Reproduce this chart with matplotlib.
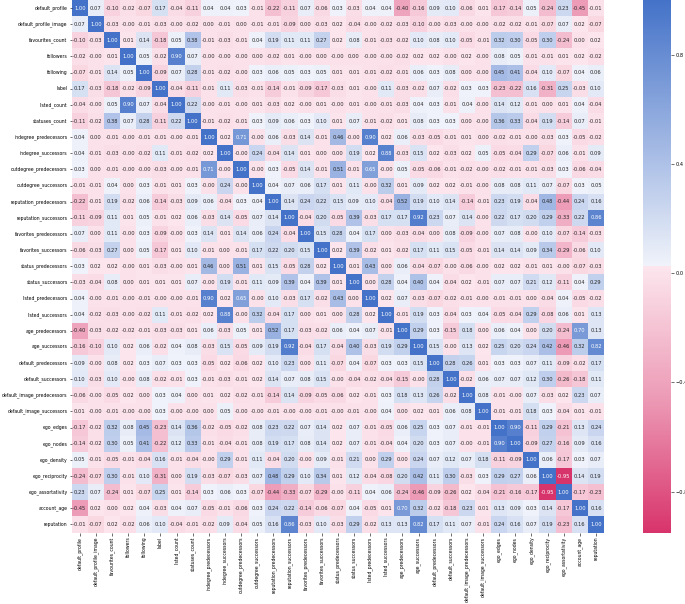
import numpy as np
import pandas as pd
import matplotlib
matplotlib.use("Agg")
import matplotlib.pyplot as plt
from matplotlib.colors import LinearSegmentedColormap
import seaborn as sns

labels = [
    "default_profile", "default_profile_image", "favourites_count", "followers", "following",
    "label", "listed_count", "statuses_count", "indegree_predecessors", "indegree_successors",
    "outdegree_predecessors", "outdegree_successors", "reputation_predecessors",
    "reputation_successors", "favorites_predecessors", "favorites_successors",
    "status_predecessors", "status_successors", "listed_predecessors", "listed_successors",
    "age_predecessors", "age_successors", "default_predecessors", "default_successors",
    "default_image_predecessors", "default_image_successors", "ego_edges", "ego_nodes",
    "ego_density", "ego_reciprocity", "ego_assortativity", "account_age", "reputation",
]

# upper triangle read row by row, each row starts at the diagonal
upper = [
    [1.00, .07, -.10, -.02, -.07, .17, -.04, -.11, .04, .04, .03, -.01, -.22, -.11, .07, -.06, .03, -.03, .04, .04, -.40, -.16, .09, .10, -.06, .01, -.17, -.14, .05, -.24, .23, -.45, -.01],
    [1.00, -.03, -0.0, -.01, -.03, -0.0, -.02, .00, -.01, .00, -.01, -.01, -.09, .00, -.03, .02, -.04, -0.0, -.02, -.03, -.10, -0.0, -.03, -0.0, -0.0, -.02, -.02, -.01, -.07, .07, .02, -.07],
    [1.00, .01, .14, -.18, .05, .38, -.01, -.03, -.01, .04, .19, .11, .11, .27, .02, .08, -.01, -.03, -.02, .10, .08, .10, -.05, -.01, .32, .30, -.05, .30, -.24, .00, .02],
    [1.00, .05, -.02, .90, .07, -0.0, -0.0, -0.0, .00, -.02, .01, -0.0, .00, -0.0, .00, -0.0, -0.0, -.02, .02, .02, -0.0, .02, -0.0, .08, .05, -.01, -.01, .01, .02, -.02],
    [1.00, -.09, .07, .28, -.01, -.02, -0.0, .03, .06, .05, .03, .05, .01, .01, -.01, -.02, -.01, .06, .03, .08, .00, -0.0, .45, .41, -.04, .10, -.07, .04, .06],
    [1.00, -.04, -.11, -.01, .11, -.03, -.01, -.14, -.01, -.09, -.17, -.03, .01, -0.0, .11, -.03, -.02, .07, -.02, .03, .03, -.23, -.22, .16, -.31, .25, -.03, .10],
    [1.00, .22, -0.0, -.01, -0.0, .01, -.03, .02, -0.0, .01, -0.0, .01, -0.0, -.01, -.03, .04, .03, -.01, .04, -0.0, .14, .12, -.01, .00, .01, .04, -.04],
    [1.00, -.01, -.02, -.01, .03, .09, .06, .03, .10, .01, .07, -.01, -.02, .01, .08, .03, .03, .00, -0.0, .36, .33, -.04, .19, -.14, .07, -.01],
    [1.00, .02, .71, -0.0, .06, -.03, .14, -.01, .46, -0.0, .90, .02, .06, -.03, -.05, -.01, .01, .00, -.02, -.01, -0.0, -.03, .03, -.05, -.02],
    [1.00, -0.0, .24, -.04, .14, .01, .00, .00, .19, .02, .88, -.03, .15, .02, -.03, .02, .05, -.05, -.04, .29, -.07, .06, -.01, .09],
    [1.00, -0.0, .03, -.05, .14, -.01, .51, -.01, .65, -0.0, .05, -.05, -.06, -.01, -.02, -0.0, -.02, -.01, -.01, -.03, .03, -.06, -.04],
    [1.00, .04, .07, .06, .17, .01, .11, -0.0, .32, .01, .09, .02, .02, -.01, -0.0, .08, .08, .11, .07, -.07, .03, .05],
    [1.00, .14, .24, .22, .15, .09, .10, -.04, .52, .19, .10, .14, -.14, -.01, .23, .19, -.04, .48, -.44, .24, .16],
    [1.00, -.04, .20, -.05, .39, -.03, .17, .17, .92, .23, .07, .14, -0.0, .22, .17, .20, .29, -.33, .22, .86],
    [1.00, .15, .28, .04, .17, .00, -.03, -.04, .00, .08, -.09, -0.0, .07, .08, -0.0, .10, -.07, -.14, -.03],
    [1.00, .02, .39, -.02, .01, -.02, .17, .11, .15, -.05, -.01, .14, .14, .09, .34, -.29, -.06, .10],
    [1.00, .01, .43, .00, .06, -.04, -.07, -0.0, -.06, -0.0, .02, .02, -.01, .01, -0.0, -.07, -.03],
    [1.00, .00, .28, .04, .40, .04, -.04, .02, -.01, .07, .07, .21, .12, -.11, .04, .29],
    [1.00, .02, .07, -.03, -.07, -.02, -.01, -0.0, -.01, -.01, .00, -.04, .04, -.05, -.02],
    [1.00, -.01, .19, .03, -.04, .03, .04, -.05, -.04, .29, -.08, .06, .01, .13],
    [1.00, .29, .03, -.15, .18, .00, .06, .04, .00, .20, -.24, .70, .13],
    [1.00, .15, -0.0, .13, .02, .25, .20, .24, .42, -.46, .32, .82],
    [1.00, .28, .26, .01, .03, .03, .07, .11, -.09, -.02, .17],
    [1.00, -.02, .06, .07, .07, .12, .30, -.26, -.18, .11],
    [1.00, .08, -.01, -0.0, .07, -.03, .02, .23, .07],
    [1.00, -.01, -.01, .18, .03, -.04, .01, -.01],
    [1.00, .90, -.11, .29, -.21, .13, .24],
    [1.00, -.09, .27, -.16, .09, .16],
    [1.00, .06, -.17, .03, .07],
    [1.00, -.95, .14, .19],
    [1.00, -.17, -.23],
    [1.00, .16],
    [1.00],
]


def main():
    n = len(labels)
    corr = np.zeros((n, n))
    for i, row in enumerate(upper):
        for j, val in enumerate(row):
            corr[i, i + j] = val
            corr[i + j, i] = val
    df = pd.DataFrame(corr, index=labels, columns=labels)

    W, H = 685, 604
    fig = plt.figure(figsize=(W / 100, H / 100), dpi=100)
    ax = fig.add_axes([71.7 / W, 1 - 532.5 / H, 532.3 / W, 532.5 / H])
    cax = fig.add_axes([643 / W, 1 - 532.5 / H, 27.7 / W, 532.5 / H])

    # pale pink and pale blue meet in the middle of the map, no white band
    cmap = LinearSegmentedColormap.from_list("pink_blue", [
        (0.0, "#d8346c"), (0.25, "#ec9ab5"), (0.499, "#fce6ed"),
        (0.501, "#f0f3fa"), (0.75, "#9ab2e1"), (1.0, "#4472c8"),
    ], N=512)
    sns.heatmap(df, annot=True, fmt=".2f", cmap=cmap, ax=ax, cbar_ax=cax,
                vmin=-0.95, vmax=1.0, annot_kws={"size": 3.7})

    ax.tick_params(axis="both", labelsize=3.35, length=1.8, width=0.4, pad=1.2)
    ax.set_xticklabels(labels, rotation=90)
    ax.set_yticklabels(labels, rotation=0)
    cax.set_yticks([-0.8, -0.4, 0.0, 0.4, 0.8])
    cax.tick_params(labelsize=3.6, length=1.8, width=0.4, pad=1.5)

    fig.savefig("out.png", dpi=100)


if __name__ == "__main__":
    main()
